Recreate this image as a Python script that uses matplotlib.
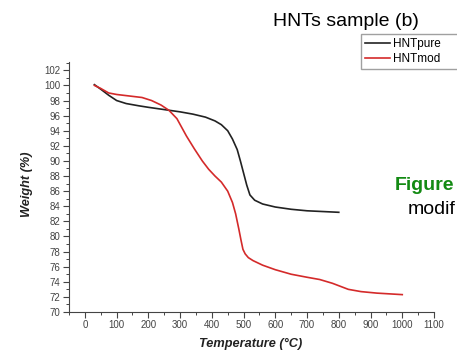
import matplotlib.pyplot as plt
from matplotlib.ticker import MultipleLocator

# TGA curves
temp_pure = [30, 50, 75, 100, 130, 170, 200, 250, 300, 340, 380, 410, 430, 450, 465,
             480, 490, 500, 510, 520, 535, 560, 600, 650, 700, 750, 800]
weight_pure = [100.1, 99.5, 98.7, 98.0, 97.6, 97.3, 97.1, 96.8, 96.5, 96.2, 95.8, 95.3,
               94.8, 94.0, 92.9, 91.5, 90.0, 88.4, 86.8, 85.5, 84.8, 84.3, 83.9, 83.6,
               83.4, 83.3, 83.2]

temp_mod = [30, 50, 75, 100, 140, 180, 210, 240, 265, 290, 320, 345, 370, 390, 410, 430,
            450, 465, 475, 485, 492, 498, 505, 515, 530, 560, 600, 650, 700, 740, 780,
            830, 870, 920, 1000]
weight_mod = [100.0, 99.6, 99.0, 98.8, 98.6, 98.4, 98.0, 97.4, 96.7, 95.6, 93.3, 91.6,
              90.0, 88.9, 88.0, 87.2, 86.0, 84.5, 83.0, 81.0, 79.5, 78.3, 77.7, 77.2,
              76.8, 76.2, 75.6, 75.0, 74.6, 74.3, 73.8, 73.0, 72.7, 72.5, 72.3]

labels = ["HNTpure", "HNTmod"]

plt.rcParams['font.family'] = ['Liberation Sans', 'DejaVu Sans']

fig = plt.figure(figsize=(4.57, 3.51), dpi=100)
ax = fig.add_axes([69/457, 1-312/351, 365/457, 250/351])

l1, = ax.plot(temp_pure, weight_pure, color='#222222', lw=1.2)
l2, = ax.plot(temp_mod, weight_mod, color='#d42a2a', lw=1.2)

ax.set_xlim(-50, 1100)
ax.set_ylim(70, 103.1)
ax.xaxis.set_minor_locator(MultipleLocator(50))
ax.yaxis.set_minor_locator(MultipleLocator(1))
ax.set_xticks(range(0, 1101, 100))
ax.set_yticks(range(70, 103, 2))
ax.tick_params(which='major', direction='out', length=4, width=0.8, labelsize=7,
               labelcolor='#444444', color='#444444', pad=2)
ax.tick_params(which='minor', direction='out', length=2, width=0.7, color='#444444')
for s in ['top', 'right']:
    ax.spines[s].set_visible(False)
for s in ['left', 'bottom']:
    ax.spines[s].set_color('#444444')
    ax.spines[s].set_linewidth(0.8)

fig.text(251/457, 1-344/351, "Temperature (°C)", ha='center', va='center',
         fontsize=9.2, fontweight='bold', fontstyle='italic', color='#222222')
fig.text(27/457, 1-184/351, "Weight (%)", ha='center', va='center', rotation=90,
         fontsize=9.2, fontweight='bold', fontstyle='italic', color='#222222')

fig.text(346/457, 1-21/351, "HNTs sample (b)", ha='center', va='center', fontsize=14)
fig.text(395/457, 1-186/351, "Figure", ha='left', va='center', fontsize=14,
         fontweight='bold', color='#138a13')
fig.text(408/457, 1-210/351, "modif", ha='left', va='center', fontsize=14)

# legend box runs off the right edge in the reference
fig.legend([l1, l2], labels, loc='upper left',
           bbox_to_anchor=(361/457, 1-70/351, 100/457, 36/351), mode='expand',
           fontsize=8.5, frameon=True, fancybox=False, edgecolor='#888888',
           handlelength=2.1, handletextpad=0.3, borderpad=0.35, labelspacing=0.25,
           borderaxespad=0)

fig.savefig("out.png", dpi=100)
